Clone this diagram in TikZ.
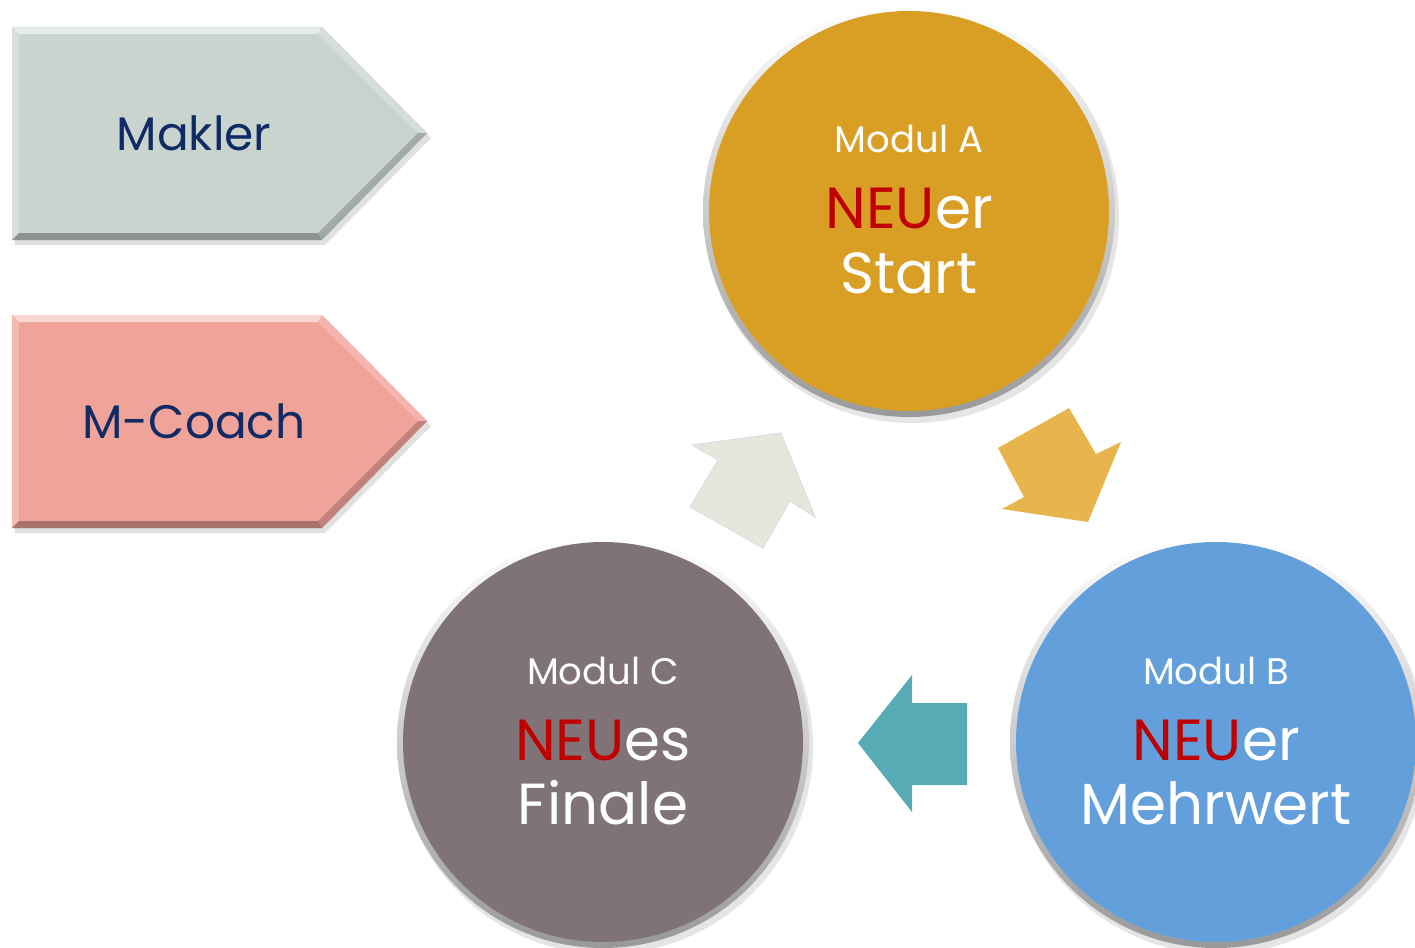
\documentclass[tikz,border=0pt]{standalone}
\usepackage{fontspec}
\setmainfont{Poppins}
\usetikzlibrary{calc}
\definecolor{navy}{HTML}{0F2A64}
\definecolor{neured}{HTML}{C00000}
\definecolor{makler}{HTML}{C9D4CE}
\definecolor{coach}{HTML}{F0A398}
\definecolor{modA}{HTML}{D99E24}
\definecolor{modB}{HTML}{629FDB}
\definecolor{modC}{HTML}{807377}
\definecolor{arrG}{HTML}{E6E6DC}
\definecolor{arrO}{HTML}{E8B44C}
\definecolor{arrT}{HTML}{56ABB5}
\tikzset{
  lbl/.style={anchor=base, inner sep=0pt, font=\fontsize{37}{37}\selectfont, text=white},
  big/.style={anchor=base, inner sep=0pt, font=\fontsize{58}{58}\selectfont, text=white},
  tag/.style={anchor=base, inner sep=0pt, font=\fontsize{47}{47}\selectfont, text=navy},
}
\newcommand{\NEU}{\textcolor{neured}{NEU}}
\newcommand{\bevelpent}[2]{% #1 = y top, #2 = colour
  \begin{scope}[shift={(0,#1)}]
    \fill[black,opacity=0.12] (15,5) -- (325,5) -- (431,111) -- (325,218) -- (15,218) -- cycle;
    \fill[#2] (12,0) -- (322,0) -- (427,106) -- (322,213) -- (12,213) -- cycle;
    \fill[#2!45!white] (12,0) -- (322,0) -- (318,7) -- (19,7) -- cycle;
    \fill[#2!75!white] (12,0) -- (19,7) -- (19,206) -- (12,213) -- cycle;
    \fill[#2!80!white] (322,0) -- (427,106) -- (418,106) -- (318,7) -- cycle;
    \fill[#2!80!black] (427,106) -- (322,213) -- (318,206) -- (418,106) -- cycle;
    \fill[#2!70!black] (322,213) -- (12,213) -- (19,206) -- (318,206) -- cycle;
  \end{scope}
}
\newcommand{\ball}[3]{% #1 centre, #2 colour, #3 name
  \fill[black,opacity=0.10] ($#1+(3,5)$) circle (207);
  \shade[shading angle=135, top color=white, bottom color=gray!80] #1 circle (206);
  \node[circle, fill=#2, minimum size=400, inner sep=0pt] (#3) at #1 {};
}
\begin{document}
\begin{tikzpicture}[x=1pt,y=-1pt]
\useasboundingbox (0,0) rectangle (1415,947);
\fill[white] (0,0) rectangle (1415,947);

% left tags
\bevelpent{27}{makler}
\node[tag] (makler) at (194,150) {Makler};
\bevelpent{315}{coach}
\node[tag] (mcoach) at (194,438) {M-Coach};

% circles
\begin{scope}
\clip (0,0) rectangle (1415,947);
\ball{(909,211)}{modA}{A}
\ball{(1216,742)}{modB}{B}
\ball{(603,742)}{modC}{C}
\end{scope}

\node[lbl] (Al1) at (909,152) {Modul A};
\node[big] (Al2) at (909,228) {\NEU er};
\node[big] (Al3) at (909,293) {Start};

\node[lbl] (Bl1) at (1216,684) {Modul B};
\node[big] (Bl2) at (1216,760) {\NEU er};
\node[big] (Bl3) at (1216,824) {Mehrwert};

\node[lbl] (Cl1) at (603,684) {Modul C};
\node[big] (Cl2) at (603,760) {\NEU es};
\node[big] (Cl3) at (603,824) {Finale};

% block arrows
\filldraw[fill=arrG, draw=gray!25, line width=1pt, line join=miter]
  (692,445) -- (781,433) -- (815,517) -- (790,501) -- (763,548) -- (690,507) -- (718,460) -- cycle;
\fill[arrO]
  (998,448) -- (1069,408) -- (1096,454) -- (1121,442) -- (1088,522) -- (1002,509) -- (1024,497) -- cycle;
\fill[arrT]
  (858,743) -- (912,675) -- (912,703) -- (967,703) -- (967,785) -- (912,785) -- (912,812) -- cycle;
\end{tikzpicture}
\end{document}
